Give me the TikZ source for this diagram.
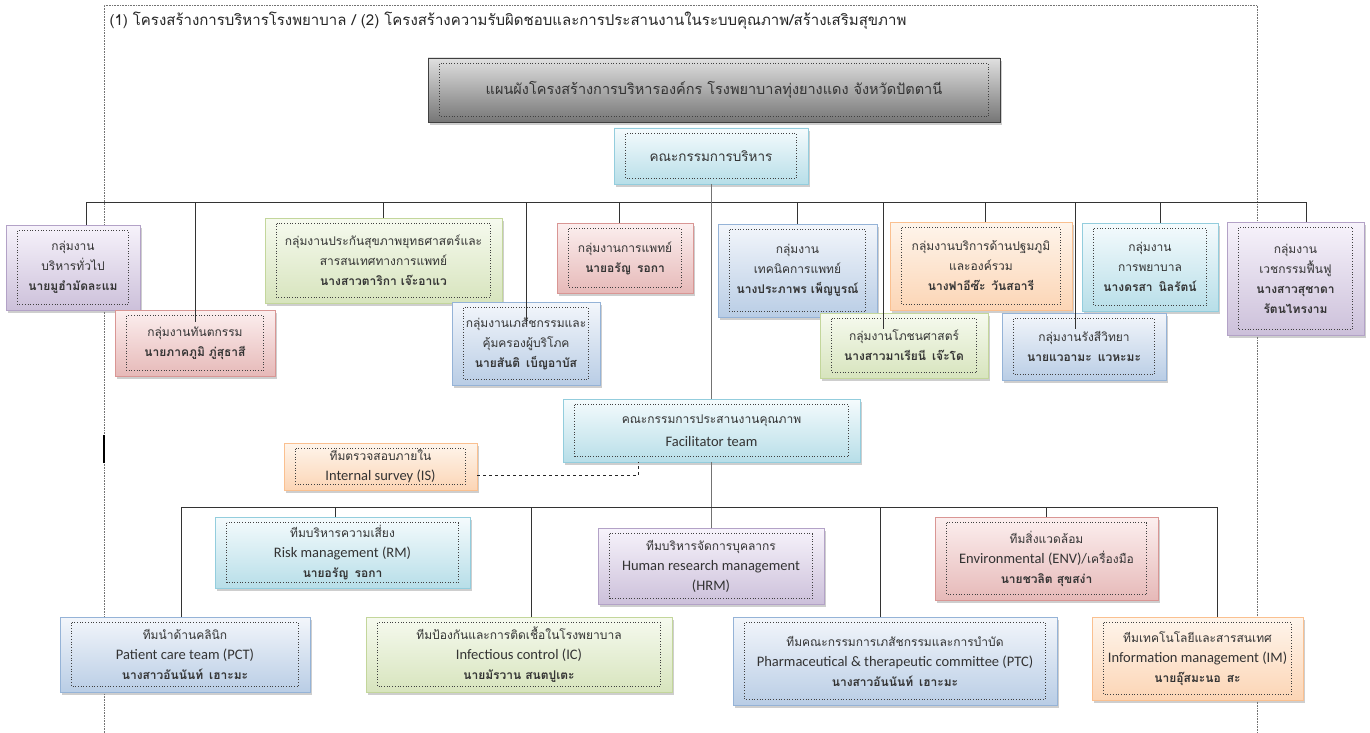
\documentclass[tikz,border=0pt]{standalone}
\usepackage{fontspec}
\setmainfont[Script=Thai]{Loma}
\newfontfamily\lat{Carlito}
\usetikzlibrary{shadows}
\definecolor{pTop}{HTML}{F7F3FB}\definecolor{pBot}{HTML}{CCC0DA}\definecolor{pBd}{HTML}{B3A2C7}
\definecolor{rTop}{HTML}{FCEFEF}\definecolor{rBot}{HTML}{E6B9B8}\definecolor{rBd}{HTML}{D99694}
\definecolor{gTop}{HTML}{F6FAEF}\definecolor{gBot}{HTML}{D7E4BD}\definecolor{gBd}{HTML}{C3D69B}
\definecolor{bTop}{HTML}{F3F6FB}\definecolor{bBot}{HTML}{B9CDE5}\definecolor{bBd}{HTML}{95B3D7}
\definecolor{oTop}{HTML}{FEF5EC}\definecolor{oBot}{HTML}{FCD5B5}\definecolor{oBd}{HTML}{FAC090}
\definecolor{cTop}{HTML}{F5FBFD}\definecolor{cBot}{HTML}{B7DEE8}\definecolor{cBd}{HTML}{93CDDD}
\definecolor{kTop}{HTML}{E0E0E0}\definecolor{kBot}{HTML}{767676}\definecolor{kBd}{HTML}{404040}
\newcommand{\boxfont}{\fontsize{12}{20}\selectfont}
\newcommand{\titlefont}{\fontsize{14.5}{20}\selectfont}
\newcommand{\boardfont}{\fontsize{13.5}{20}\selectfont}
\newcommand{\capfont}{\fontsize{15}{18}\selectfont}
\newcommand{\en}[1]{{\lat\fontsize{14.5}{20}\selectfont #1}}
\tikzset{
  box/.style={draw=#1Bd, line width=0.8pt, top color=#1Top, bottom color=#1Bot,
    drop shadow={shadow xshift=2pt, shadow yshift=-3pt, opacity=0.35, fill=black!55},
    inner sep=0pt, align=center, font=\boxfont, text=black!80},
  innerdot/.style={dotted, line width=0.7pt, black!75},
  bus/.style={line width=1pt, black!80},
  trunk/.style={line width=0.6pt, black!55},
  frameline/.style={densely dotted, line width=0.6pt, black!55},
  link/.style={dashed, line width=0.9pt, black!85}
}
\newcommand{\mkbox}[7]{%
  \node[box=#6, minimum width={#4pt-#2pt}, minimum height={#5pt-#3pt}] (#1) at ({(#2+#4)/2},{(#3+#5)/2}) {#7};
  \draw[innerdot] ([xshift=12pt,yshift=-6pt]#1.north west) rectangle ([xshift=-12pt,yshift=6pt]#1.south east);
}
\begin{document}
\begin{tikzpicture}[x=1pt,y=-1pt]
\useasboundingbox (0,0) rectangle (1370,733);
\fill[white] (0,0) rectangle (1370,733);
% page frame
\draw[frameline] (104,733) -- (104,5) -- (1257,5) -- (1257,733);
\draw[line width=1.8pt] (104,435) -- (104,463);
\node[anchor=west, font=\capfont, text=black!85] (cap) at (106,21) {(1) โครงสร้างการบริหารโรงพยาบาล / (2) โครงสร้างความรับผิดชอบและการประสานงานในระบบคุณภาพ/สร้างเสริมสุขภาพ};

\mkbox{title}{428}{58}{1000}{122}{k}{\titlefont แผนผังโครงสร้างการบริหารองค์กร โรงพยาบาลทุ่งยางแดง จังหวัดปัตตานี}
\mkbox{board}{614}{128}{808}{184}{c}{\boardfont คณะกรรมการบริหาร}

% upper row
\mkbox{g1}{6}{225}{140}{310}{p}{กลุ่มงาน\\บริหารทั่วไป\\\textbf{นายมูฮำมัดละแม}}
\mkbox{g2}{115}{310}{275}{376}{r}{กลุ่มงานทันตกรรม\\\textbf{นายภาคภูมิ ภู่สุธาสี}}
\mkbox{g3}{265}{218}{502}{303}{g}{กลุ่มงานประกันสุขภาพยุทธศาสตร์และ\\สารสนเทศทางการแพทย์\\\textbf{นางสาวตาริกา เจ๊ะอาแว}}
\mkbox{g4}{452}{302}{600}{385}{b}{กลุ่มงานเภสัชกรรมและ\\คุ้มครองผู้บริโภค\\\textbf{นายสันติ\enspace เบ็ญอาบัส}}
\mkbox{g5}{557}{223}{693}{293}{r}{กลุ่มงานการแพทย์\\\textbf{นายอรัญ\enspace รอกา}}
\mkbox{g6}{718}{224}{877}{317}{b}{กลุ่มงาน\\เทคนิคการแพทย์\\\textbf{นางประภาพร เพ็ญบูรณ์}}
\mkbox{g7}{820}{313}{988}{378}{g}{กลุ่มงานโภชนศาสตร์\\\textbf{นางสาวมาเรียนี\enspace เจ๊ะโด}}
\mkbox{g8}{890}{222}{1072}{310}{o}{กลุ่มงานบริการด้านปฐมภูมิ\\และองค์รวม\\\textbf{นางฟาอีซ๊ะ\enspace วันสอารี}}
\mkbox{g9}{1082}{223}{1218}{311}{c}{กลุ่มงาน\\การพยาบาล\\\textbf{นางดรสา\enspace นิลรัตน์}}
\mkbox{g10}{1002}{313}{1166}{380}{b}{กลุ่มงานรังสีวิทยา\\\textbf{นายแวอามะ\enspace แวหะมะ}}
\mkbox{g11}{1227}{222}{1364}{335}{p}{กลุ่มงาน\\เวชกรรมฟื้นฟู\\\textbf{นางสาวสุชาดา}\\\textbf{รัตนไทรงาม}}

% quality teams
\mkbox{fac}{563}{399}{860}{462}{c}{คณะกรรมการประสานงานคุณภาพ\\[3pt]\en{Facilitator team}}
\mkbox{is}{284}{443}{477}{490}{o}{ทีมตรวจสอบภายใน\\\en{Internal survey (IS)}}
\mkbox{rm}{215}{517}{470}{588}{c}{ทีมบริหารความเสี่ยง\\\en{Risk management (RM)}\\\textbf{นายอรัญ\enspace รอกา}}
\mkbox{hrm}{598}{528}{824}{604}{p}{ทีมบริหารจัดการบุคลากร\\\en{Human research management}\\\en{(HRM)}}
\mkbox{env}{935}{517}{1158}{600}{r}{ทีมสิ่งแวดล้อม\\\en{Environmental (ENV)/}เครื่องมือ\\\textbf{นายชวลิต สุขสง่า}}
\mkbox{pct}{60}{617}{310}{692}{b}{ทีมนำด้านคลินิก\\\en{Patient care team (PCT)}\\\textbf{นางสาวอันนันท์\enspace เฮาะมะ}}
\mkbox{ic}{366}{617}{672}{692}{g}{ทีมป้องกันและการติดเชื้อในโรงพยาบาล\\\en{Infectious control (IC)}\\\textbf{นายมัรวาน สนตปูเตะ}}
\mkbox{ptc}{733}{617}{1057}{705}{b}{ทีมคณะกรรมการเภสัชกรรมและการบำบัด\\\en{Pharmaceutical \& therapeutic committee (PTC)}\\\textbf{นางสาวอันนันท์\enspace เฮาะมะ}}
\mkbox{im}{1092}{617}{1303}{700}{o}{ทีมเทคโนโลยีและสารสนเทศ\\\en{Information management (IM)}\\\textbf{นายอุ๊สมะนอ\enspace สะ}}

% upper bus
\coordinate (tbL) at (86,202);
\coordinate (tbR) at (1306,202);
\draw[bus] (tbL) -- (tbR);
\draw[bus] (tbL) -- (tbL |- g1.north);
\draw[bus] (g2.north |- tbL) -- ([yshift=-12pt]g2.north);
\draw[bus] (g3.north |- tbL) -- (g3.north);
\draw[bus] (g4.north |- tbL) -- ([yshift=-22pt]g4.north);
\draw[bus] ([xshift=-6pt]g5.north |- tbL) -- ([xshift=-6pt]g5.north);
\draw[bus] (g6.north |- tbL) -- (g6.north);
\draw[bus] ([xshift=-21pt]g7.north |- tbL) -- ([xshift=-21pt,yshift=-16pt]g7.north);
\draw[bus] ([xshift=4pt]g8.north |- tbL) -- ([xshift=4pt]g8.north);
\draw[bus] ([xshift=-9pt]g10.north |- tbL) -- ([xshift=-9pt,yshift=-16pt]g10.north);
\draw[bus] ([xshift=10pt]g9.north |- tbL) -- ([xshift=10pt]g9.north);
\draw[bus] (tbR) -- (tbR |- g11.north);
% trunk
\draw[trunk] (board.south) -- (board.south |- fac.north);
\draw[trunk] (fac.south) -- (fac.south |- hrm.north);
\draw[link] ([yshift=-9pt]is.east) -| ([xshift=-73pt]fac.south);
% lower bus
\coordinate (lbL) at (181,507);
\coordinate (lbR) at (1217,507);
\draw[bus] (lbL) -- (lbR);
\draw[bus] (lbL) -- (lbL |- pct.north);
\draw[bus] ([xshift=-7pt]rm.north |- lbL) -- ([xshift=-7pt]rm.north);
\draw[bus] ([xshift=12pt]ic.north |- lbL) -- ([xshift=12pt]ic.north);
\draw[bus] ([xshift=-15pt]ptc.north |- lbL) -- ([xshift=-15pt]ptc.north);
\draw[bus] (env.north |- lbL) -- (env.north);
\draw[bus] (lbR) -- (lbR |- im.north);
\end{tikzpicture}
\end{document}
